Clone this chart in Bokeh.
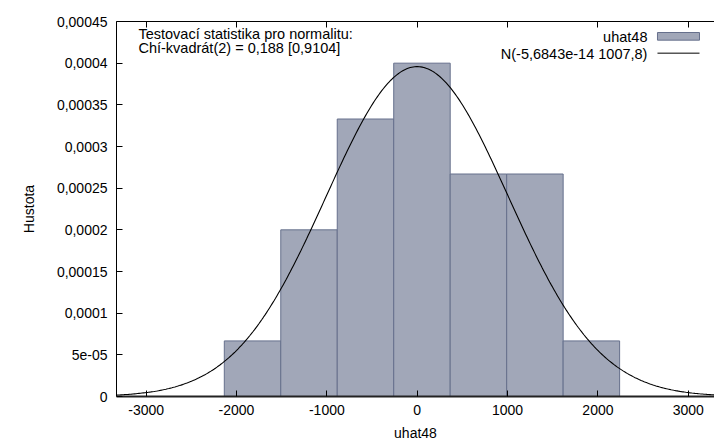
from bokeh.plotting import figure
from bokeh.models import (Range1d, FixedTicker, CustomJSTickFormatter, LinearAxis,
                          Label, BoxAnnotation, Arrow, ColumnDataSource)
from bokeh.embed import file_html
from bokeh.resources import INLINE
import math

# ---- data ----
bin_edges = [-2135, -1510, -885, -260, 365, 990, 1615, 2240]
density = [6.67e-5, 2.0e-4, 3.33e-4, 4.0e-4, 2.67e-4, 2.67e-4, 6.67e-5]
normal_mean = -5.6843e-14
normal_sd = 1007.8
series_name = "uhat48"
normal_label = "N(-5,6843e-14 1007,8)"
test_line1 = "Testovací statistika pro normalitu:"
test_line2 = "Chí-kvadrát(2) = 0,188 [0,9104]"

x_ticks = [-3000, -2000, -1000, 0, 1000, 2000, 3000]
x_tick_labels = ["-3000", "-2000", "-1000", "0", "1000", "2000", "3000"]
y_ticks = [0, 5e-05, 0.0001, 0.00015, 0.0002, 0.00025, 0.0003, 0.00035, 0.0004, 0.00045]
y_tick_labels = ["0", "5e-05", "0,0001", "0,00015", "0,0002", "0,00025", "0,0003",
                 "0,00035", "0,0004", "0,00045"]

X0, X1 = -3328, 3290
Y0, Y1 = 0, 0.00045

FONT = "Liberation Sans"

p = figure(width=714, height=444, output_backend="svg", toolbar_location=None,
           x_range=Range1d(X0, X1), y_range=Range1d(Y0, Y1),
           min_border_left=116, min_border_right=0, min_border_top=21, min_border_bottom=48)
p.grid.visible = False
p.outline_line_color = None

# histogram bars
src = ColumnDataSource(dict(left=bin_edges[:-1], right=bin_edges[1:], top=density,
                            bottom=[0] * len(density)))
p.quad(left="left", right="right", top="top", bottom="bottom", source=src,
       fill_color="#a1a7b8", line_color="#66708c", line_width=1)

# theoretical normal density N(mean, sd)
n_pts = 400
xs = [X0 + (X1 - X0) * i / (n_pts - 1) for i in range(n_pts)]
ys = [math.exp(-0.5 * ((x - normal_mean) / normal_sd) ** 2) / (normal_sd * math.sqrt(2 * math.pi)) for x in xs]
p.line(xs, ys, line_color="black", line_width=1.1)

fmt_code = """
let best = 0; let bd = Infinity;
for (let i = 0; i < vals.length; i++) { const d = Math.abs(vals[i] - tick); if (d < bd) { bd = d; best = i; } }
return labels[best];
"""

# axes
xa = p.xaxis[0]
xa.ticker = FixedTicker(ticks=x_ticks)
xa.formatter = CustomJSTickFormatter(args=dict(vals=x_ticks, labels=x_tick_labels), code=fmt_code)
xa.axis_label = "uhat48"
ya = p.yaxis[0]
ya.ticker = FixedTicker(ticks=y_ticks)
ya.formatter = CustomJSTickFormatter(args=dict(vals=y_ticks, labels=y_tick_labels), code=fmt_code)
ya.axis_label = "Hustota"

for ax in (xa, ya):
    ax.major_tick_in = 6
    ax.major_tick_out = 0
    ax.minor_tick_in = 0
    ax.minor_tick_out = 0
    ax.axis_line_color = "black"
    ax.major_tick_line_color = "black"
    ax.major_label_text_font = FONT
    ax.major_label_text_font_size = "14px"
    ax.major_label_text_color = "black"
    ax.axis_label_text_font = FONT
    ax.axis_label_text_font_size = "14px"
    ax.axis_label_text_font_style = "normal"
    ax.axis_label_text_color = "black"

xa.axis_line_width = 2
xa.axis_line_color = "#222222"
xa.major_label_standoff = 8
xa.axis_label_standoff = 7
ya.major_label_standoff = 9
ya.axis_label_standoff = 17

# mirrored ticks on top (no labels)
top_ax = LinearAxis(ticker=FixedTicker(ticks=x_ticks), major_tick_in=6, major_tick_out=0,
                    minor_tick_in=0, minor_tick_out=0, major_label_standoff=0,
                    formatter=CustomJSTickFormatter(code="return '';"),
                    axis_line_color="black")
p.add_layout(top_ax, "above")

# statistics text
p.add_layout(Label(x=-3085, y=4.356e-4, text=test_line1, text_font=FONT, text_font_size="14.5px",
                   text_baseline="middle", text_align="left", text_color="black"))
p.add_layout(Label(x=-3085, y=4.177e-4, text=test_line2, text_font=FONT, text_font_size="14.5px",
                   text_baseline="middle", text_align="left", text_color="black"))

# legend (text left of sample, as in reference)
p.add_layout(Label(x=2548, y=4.32e-4, text=series_name, text_font=FONT, text_font_size="14.5px",
                   text_baseline="middle", text_align="right", text_color="black"))
p.add_layout(Label(x=2548, y=4.111e-4, text=normal_label, text_font=FONT, text_font_size="14.5px",
                   text_baseline="middle", text_align="right", text_color="black"))
p.add_layout(BoxAnnotation(left=2659, right=3124, bottom=4.276e-4, top=4.368e-4,
                           fill_color="#a1a7b8", fill_alpha=1, line_color="#66708c", line_width=1,
                           line_alpha=1))
p.add_layout(Arrow(end=None, x_start=2659, x_end=3124, y_start=4.12e-4, y_end=4.12e-4,
                   line_color="black", line_width=1))

open("out.html", "w").write(file_html(p, INLINE))
